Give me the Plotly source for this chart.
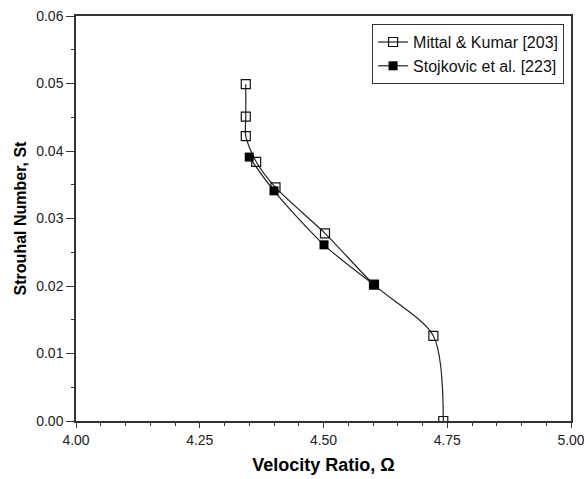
import plotly.graph_objects as go

mittal_x = [4.343, 4.343, 4.343, 4.364, 4.403, 4.503, 4.602, 4.722, 4.742]
mittal_y = [0.0499, 0.0451, 0.0422, 0.0384, 0.0346, 0.0278, 0.0202, 0.0126, 0.0]
stoj_x = [4.350, 4.400, 4.501, 4.602]
stoj_y = [0.0391, 0.0341, 0.0261, 0.0202]

x_ticks = [4.00, 4.25, 4.50, 4.75, 5.00]
y_ticks = [0.00, 0.01, 0.02, 0.03, 0.04, 0.05, 0.06]

fig = go.Figure()
fig.add_trace(go.Scatter(
    x=mittal_x, y=mittal_y, mode="lines+markers", name="Mittal & Kumar [203]",
    line=dict(color="#222222", width=1.2, shape="spline", smoothing=0.8),
    marker=dict(symbol="square-open", size=9, color="#111111", line=dict(width=1.2)),
))
fig.add_trace(go.Scatter(
    x=stoj_x, y=stoj_y, mode="lines+markers", name="Stojkovic et al. [223]",
    line=dict(color="#222222", width=1.2, shape="spline", smoothing=0.8),
    marker=dict(symbol="square", size=9, color="#000000"),
))

axis_common = dict(
    showgrid=False, zeroline=False, showline=True, linecolor="#333333", linewidth=1.5,
    mirror=True, ticks="outside", tickcolor="#333333", tickwidth=1, automargin=False,
    ticklabeloverflow="allow",
    tickfont=dict(family="Liberation Sans, Arial", size=14, color="#222222"),
)
fig.update_xaxes(
    range=[4.0, 5.0], tickvals=x_ticks, ticktext=[f"{v:.2f}" for v in x_ticks], ticklen=5,
    minor=dict(dtick=0.05, ticks="outside", ticklen=3, tickcolor="#333333"),
    title=dict(text="<b>Velocity Ratio, Ω</b>", font=dict(family="Liberation Sans, Arial", size=18, color="#000000"), standoff=12),
    **axis_common,
)
fig.update_yaxes(
    range=[0.0, 0.06], tickvals=y_ticks, ticktext=[f"{v:.2f}" for v in y_ticks], ticklen=8,
    minor=dict(dtick=0.005, ticks="outside", ticklen=3, tickcolor="#333333"),
    title=dict(text="<b>Strouhal Number, St</b>", font=dict(family="Liberation Sans, Arial", size=16, color="#000000"), standoff=6),
    **axis_common,
)
fig.update_layout(
    width=584, height=479, paper_bgcolor="white", plot_bgcolor="white",
    margin=dict(l=76, r=13, t=16, b=58),
    legend=dict(x=0.986, y=0.98, xanchor="right", yanchor="top", bgcolor="white",
                bordercolor="#333333", borderwidth=1, itemwidth=30,
                font=dict(family="Liberation Sans, Arial", size=16, color="#111111"),
                tracegroupgap=0),
    showlegend=True,
)
fig.write_html("out.html", config={"displayModeBar": False},
               post_script="document.body.style.margin='0';document.body.style.overflow='hidden';")
